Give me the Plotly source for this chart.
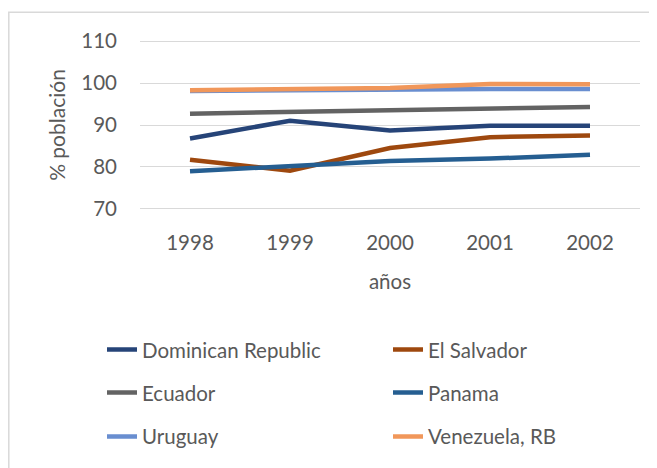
import plotly.graph_objects as go

# Datos
anios = ['1998', '1999', '2000', '2001', '2002']
paises = ['Dominican Republic', 'El Salvador', 'Ecuador', 'Panama', 'Uruguay', 'Venezuela, RB']
dominican_republic = [86.8, 91.0, 88.7, 89.8, 89.8]
el_salvador = [81.7, 79.1, 84.5, 87.1, 87.5]
ecuador = [92.7, 93.1, 93.5, 93.9, 94.3]
panama = [79.0, 80.1, 81.4, 82.0, 82.9]
uruguay = [98.1, 98.3, 98.4, 98.6, 98.6]
venezuela = [98.3, 98.6, 98.8, 99.8, 99.7]

series = [dominican_republic, el_salvador, ecuador, panama, uruguay, venezuela]
colores = ['#264478', '#9E480E', '#636363', '#255E91', '#698ED0', '#F1975A']
# cada fila de la leyenda es una leyenda aparte (2 elementos por fila)
leyendas = ['legend', 'legend', 'legend2', 'legend2', 'legend3', 'legend3']

fuente = 'Lato, Carlito, Calibri, sans-serif'
gris = '#595959'

fig = go.Figure()
for nombre, valores, color, leg in zip(paises, series, colores, leyendas):
    fig.add_trace(go.Scatter(x=anios, y=valores, name=nombre, mode='lines',
                             line=dict(color=color, width=4.5),
                             legend=leg))

# Posición en coordenadas de papel (área de trazado 140..640 x 38.9..211.1 px en pantalla)
def px_x(p):
    return (p - 140) / 500

def px_y(p):
    return (211.1 - p) / 172.2

leg_comun = dict(orientation='h', xanchor='left', yanchor='middle',
                 font=dict(family=fuente, size=20.5, color=gris),
                 entrywidth=241, entrywidthmode='pixels',
                 bgcolor='rgba(0,0,0,0)', itemwidth=30)

# la página tiene 8 px de margen en el body, se descuentan del tamaño
fig.update_layout(
    width=649, height=460,
    margin=dict(l=132, r=17, t=30.9, b=256.9, autoexpand=False),
    plot_bgcolor='white', paper_bgcolor='white',
    font=dict(family=fuente, size=20.5, color=gris),
    showlegend=True,
    legend=dict(x=px_x(102), y=px_y(350), **leg_comun),
    legend2=dict(x=px_x(102), y=px_y(393), **leg_comun),
    legend3=dict(x=px_x(102), y=px_y(437), **leg_comun),
    xaxis=dict(range=[-0.5, 4.5], showgrid=False, zeroline=False,
               showline=False, ticks='', ticklabelstandoff=17,
               title=dict(text='años', standoff=22,
                          font=dict(family=fuente, size=20.5, color=gris))),
    yaxis=dict(range=[69.5, 110.5], dtick=10, tick0=70, showgrid=True,
               gridcolor='#D9D9D9', gridwidth=1.3, zeroline=False,
               showline=False, ticks='', ticklabelstandoff=22,
               title=dict(text='% población', standoff=9,
                          font=dict(family=fuente, size=21, color=gris))),
)

# marco del gráfico
fig.add_shape(type='rect', xref='paper', yref='paper',
              x0=px_x(8.8), x1=px_x(700), y0=px_y(520), y1=px_y(12),
              line=dict(color='#D9D9D9', width=1.5), layer='below')

fig.write_html('out.html')
